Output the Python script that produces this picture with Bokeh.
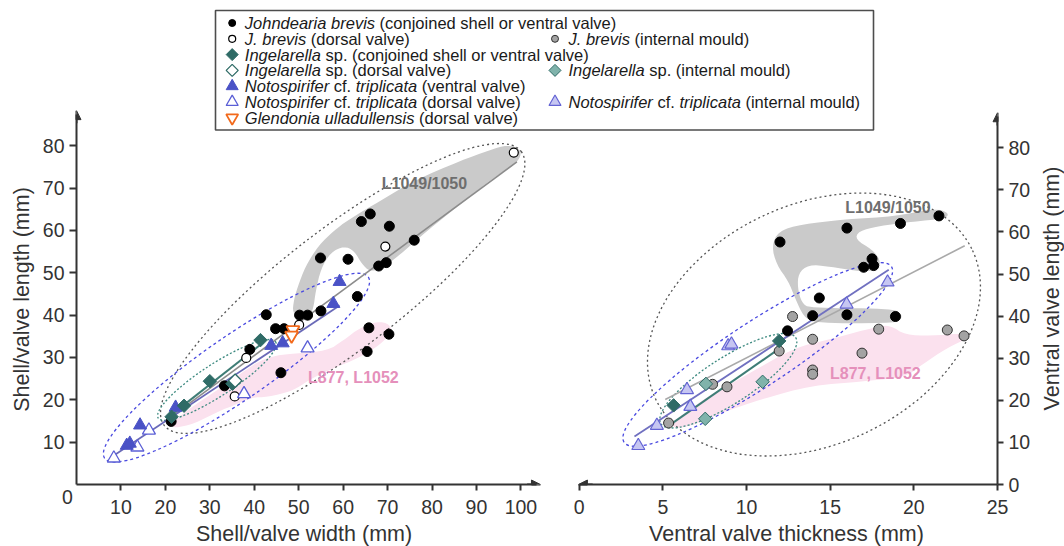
import math
from bokeh.plotting import figure
from bokeh.models import FixedTicker, Arrow, NormalHead, GridBox, Range1d
from bokeh.embed import file_html
from bokeh.resources import INLINE
from bokeh.core.properties import value

FONT = "Liberation Sans"
INK = "#333333"

# ======================= DATA =======================
# ---- Panel A: shell/valve width (mm) vs shell/valve length (mm) ----
A_JB_FILLED_W = [64.1, 66.1, 70.4, 76.0, 54.9, 61.1, 68.0, 69.7, 63.2, 42.7, 50.2, 52.0,
                 55.0, 44.8, 46.7, 65.8, 70.3, 65.4, 39.0, 46.0, 33.3, 21.3]
A_JB_FILLED_L = [62.1, 63.9, 61.0, 57.7, 53.5, 53.2, 51.6, 52.4, 44.4, 40.1, 40.0, 40.0,
                 41.0, 36.8, 36.8, 37.0, 35.5, 31.4, 31.9, 26.4, 23.3, 14.9]
A_JB_DORSAL_W = [98.4, 69.5, 50.1, 38.2, 35.6]
A_JB_DORSAL_L = [78.4, 56.2, 37.7, 29.9, 20.8]
A_ING_FILLED_W = [41.4, 30.0, 24.2, 21.4, 35.1]
A_ING_FILLED_L = [34.1, 24.4, 18.6, 16.0, 23.8]
A_ING_DORSAL_W = [35.7]
A_ING_DORSAL_L = [24.5]
A_NOT_VENTRAL_W = [59.2, 57.8, 43.8, 46.4, 22.3, 14.3, 11.3, 12.0]
A_NOT_VENTRAL_L = [47.9, 42.7, 32.8, 33.4, 18.2, 14.0, 9.2, 9.7]
A_NOT_DORSAL_W = [52.0, 37.7, 16.3, 13.7, 8.4]
A_NOT_DORSAL_L = [32.2, 21.4, 12.8, 8.8, 6.2]
A_GLE_DORSAL_W = [48.7, 48.4]
A_GLE_DORSAL_L = [36.5, 35.2]

# regression lines (end points)
A_FIT_JB_W, A_FIT_JB_L = [21.2, 99.1], [15.9, 76.2]
A_FIT_NOT_W, A_FIT_NOT_L = [8.4, 59.2], [6.85, 42.3]
A_FIT_ING_W, A_FIT_ING_L = [21.4, 42.1], [16.5, 33.6]

# group envelopes (centre in data units, size in px, angle in deg): J. brevis, Notospirifer, Ingelarella
A_ENV_W = [59.9, 36.0, 31.6]
A_ENV_L = [46.3, 27.6, 24.7]
A_ENV_WIDTH_PX = [450, 320, 140]
A_ENV_HEIGHT_PX = [120, 64, 32]
A_ENV_ANGLE = [37.5, 34.5, 33.0]

# locality regions
A_REG_L1049_W = [48.6, 48.9, 49.7, 51.5, 54.5, 58.0, 61.0, 68.5, 76.0, 86.5, 93.0, 97.0, 99.8,
                 100.0, 98.5, 94.0, 86.5, 79.0, 72.5, 68.5, 66.0, 64.2, 62.5, 60.2, 57.2, 55.0,
                 53.8, 53.3, 52.3, 50.5]
A_REG_L1049_L = [40.5, 43.5, 46.5, 51.5, 56.5, 60.0, 62.4, 67.1, 71.8, 76.5, 79.0, 80.2, 79.3,
                 77.5, 75.5, 72.6, 66.3, 60.0, 54.0, 51.0, 50.3, 52.1, 55.2, 56.3, 54.8, 51.0,
                 45.5, 41.5, 39.7, 39.3]
A_REG_L877_W = [21.2, 24.9, 29.0, 33.9, 38.0, 41.4, 45.0, 48.9, 56.5, 60.0, 64.0, 68.5, 71.1,
                70.0, 68.5, 64.0, 56.5, 52.0, 48.9, 42.9, 39.5, 35.0, 32.4, 26.4, 22.0]
A_REG_L877_L = [14.3, 17.5, 20.5, 23.8, 27.0, 29.3, 30.5, 30.9, 31.6, 34.0, 37.2, 38.7, 37.2,
                35.0, 33.2, 30.1, 26.9, 24.5, 22.2, 20.6, 20.6, 18.5, 17.5, 14.3, 13.3]
A_LABEL_TEXT = ["L1049/1050", "L877, L1052"]
A_LABEL_W = [78.3, 62.3]
A_LABEL_L = [71.1, 25.3]

# ---- Panel B: ventral valve thickness (mm) vs ventral valve length (mm) ----
B_JB_FILLED_T = [12.0, 16.0, 19.2, 21.5, 17.5, 17.0, 17.6, 14.35, 13.95, 16.0, 18.9, 12.45]
B_JB_FILLED_L = [57.6, 60.9, 62.0, 63.8, 53.6, 51.6, 52.0, 44.3, 40.1, 40.3, 39.9, 36.5]
B_JB_MOULD_T = [12.75, 13.95, 17.9, 22.0, 23.0, 16.9, 13.95, 13.95, 11.95, 7.97, 8.83, 5.34]
B_JB_MOULD_L = [39.9, 34.5, 36.9, 36.7, 35.3, 31.2, 27.2, 26.2, 31.7, 23.8, 23.2, 14.6]
B_ING_FILLED_T = [11.95, 5.64]
B_ING_FILLED_L = [34.1, 18.8]
B_ING_MOULD_T = [7.57, 10.96, 7.53]
B_ING_MOULD_L = [23.9, 24.4, 15.6]
B_NOT_MOULD_T = [18.43, 15.98, 8.9, 9.1, 6.44, 6.64, 4.64, 3.53]
B_NOT_MOULD_L = [48.05, 42.8, 32.9, 33.3, 22.5, 18.5, 14.0, 9.2]

B_FIT_JB_T, B_FIT_JB_L = [5.14, 23.04], [20.2, 56.7]
B_FIT_NOT_T, B_FIT_NOT_L = [3.3, 18.5], [11.4, 51.0]
B_FIT_ING_T, B_FIT_ING_L = [5.4, 12.0], [14.1, 32.4]

B_ENV_T = [14.03, 10.67, 8.91]
B_ENV_L = [38.0, 30.9, 24.65]
B_ENV_WIDTH_PX = [350, 320, 160]
B_ENV_HEIGHT_PX = [240, 64, 46]
B_ENV_ANGLE = [25.0, 33.3, 32.6]

B_REG_L1049_T = [11.5, 11.9, 13.3, 15.9, 18.9, 21.3, 22.1, 21.9, 19.9, 17.9, 16.7, 16.5, 17.5,
                 18.0, 17.9, 16.9, 14.9, 13.7, 13.1, 13.05, 13.3, 13.8, 18.7, 19.3, 19.2, 18.5,
                 14.1, 13.4, 12.9, 12.5, 11.8]
B_REG_L1049_L = [56.6, 60.2, 61.8, 63.0, 63.7, 65.6, 64.5, 63.2, 62.4, 61.4, 60.2, 58.2, 55.8,
                 53.4, 51.0, 50.5, 51.8, 52.2, 50.2, 46.7, 43.1, 41.9, 41.8, 40.5, 38.9, 38.3,
                 38.3, 39.9, 44.3, 48.3, 52.2]
B_REG_L877_T = [5.5, 6.5, 7.9, 10.0, 12.85, 15.0, 17.8, 18.6, 19.5, 21.0, 22.9, 23.4,
                22.0, 20.5, 19.5, 17.0, 13.9, 10.9, 8.5, 6.9, 5.8]
B_REG_L877_L = [14.5, 17.5, 21.5, 26.0, 32.5, 34.5, 37.5, 37.8, 35.5, 35.3, 35.9, 35.0,
                32.5, 28.5, 25.5, 24.5, 23.5, 20.3, 17.0, 14.2, 13.2]
B_LABEL_TEXT = ["L1049/1050", "L877, L1052"]
B_LABEL_T = [18.45, 17.7]
B_LABEL_L = [65.8, 26.4]

A_X_TICKS = [10, 20, 30, 40, 50, 60, 70, 80, 90, 100]
A_Y_TICKS = [10, 20, 30, 40, 50, 60, 70, 80]
B_X_TICKS = [0, 5, 10, 15, 20, 25]
B_Y_TICKS = [0, 10, 20, 30, 40, 50, 60, 70, 80]

# axis titles
A_X_TITLE = "Shell/valve width (mm)"
A_Y_TITLE = "Shell/valve length (mm)"
B_X_TITLE = "Ventral valve thickness (mm)"
B_Y_TITLE = "Ventral valve length (mm)"

# ======================= STYLES =======================
SQ = math.pi / 4
STY = {
    "jb":    dict(marker="circle", size=10, fill_color="black", line_color="black"),
    "jb_d":  dict(marker="circle", size=9, fill_color="white", line_color="black", line_width=1.2),
    "jb_m":  dict(marker="circle", size=10, fill_color="#a3a3a3", line_color="#303030", line_width=1),
    "ing":   dict(marker="square", angle=SQ, size=9.5, fill_color="#2f6b66", line_color="#2f6b66"),
    "ing_d": dict(marker="square", angle=SQ, size=9.5, fill_color="white", line_color="#2f6b66", line_width=1.3),
    "ing_m": dict(marker="square", angle=SQ, size=9.5, fill_color="#80b3ab", line_color="#2f6b66", line_width=1),
    "not":   dict(marker="triangle", size=13, fill_color="#4a52c6", line_color="#4a52c6"),
    "not_d": dict(marker="triangle", size=13, fill_color="white", line_color="#5b5fd6", line_width=1.3),
    "not_m": dict(marker="triangle", size=13, fill_color="#c6c6f2", line_color="#6464d4", line_width=1.2),
    "gle":   dict(marker="inverted_triangle", size=13, fill_color="white", line_color="#f26a1c", line_width=1.8),
}
LEG_SIZE = {"jb": 7, "jb_d": 7, "jb_m": 7, "ing": 8.5, "ing_d": 8.5, "ing_m": 8.5,
            "not": 12, "not_d": 12, "not_m": 12, "gle": 12}
ENV_STY = [dict(line_color="#555555", line_dash="2 3", line_width=1.3),
           dict(line_color="#4a4ae0", line_dash="3 3", line_width=1.3),
           dict(line_color="#3d8a80", line_dash="2 2", line_width=1.3)]
GRAY_REG, PINK_REG = "#cacaca", "#fbe1ee"
GRAY_TXT, PINK_TXT = "#6e6e6e", "#e590bb"

# ======================= LAYOUT (page has no margin: canvas px == picture px) =======================
W_TOTAL, H_TOTAL = 1064, 546
PAD = 8                 # first grid column (keeps the panels' frames unaligned with the overlay)
COL_B = 556             # where panel B's canvas starts
FRAME_BOTTOM = 484
A_FRAME_LEFT, A_FRAME_RIGHT = 76, 545
B_FRAME_LEFT, B_FRAME_RIGHT = 570, 997
A_PX_X, A_PX_Y = 4.444, 4.234
B_PX_X, B_PX_Y = 16.73, 4.21
A_X_AXIS_END, A_Y_AXIS_END = 104.4, 88.3
B_X_AXIS_END, B_Y_AXIS_END = -0.05, 88.3
TITLE_PX = "21.5px"
X_TITLE_Y = 533
A_X_TITLE_X, B_X_TITLE_X = 303.5, 786
A_Y_TITLE_X, A_Y_TITLE_Y = 21.5, 299
B_Y_TITLE_X, B_Y_TITLE_Y = 1051, 288


def smooth_closed(xs, ys, n=2):
    for _ in range(n):
        nx, ny = [], []
        m = len(xs)
        for i in range(m):
            x0, y0 = xs[i], ys[i]
            x1, y1 = xs[(i + 1) % m], ys[(i + 1) % m]
            nx += [0.75 * x0 + 0.25 * x1, 0.25 * x0 + 0.75 * x1]
            ny += [0.75 * y0 + 0.25 * y1, 0.25 * y0 + 0.75 * y1]
        xs, ys = nx, ny
    return xs, ys


def style_axis(ax, ticks, bounds, tick_out, standoff):
    ax.ticker = FixedTicker(ticks=ticks)
    ax.bounds = bounds
    ax.axis_line_color = INK
    ax.axis_line_width = 2
    ax.major_tick_line_color = INK
    ax.major_tick_line_width = 2
    ax.major_tick_out = tick_out
    ax.major_tick_in = 0
    ax.minor_tick_out = 0
    ax.minor_tick_in = 0
    ax.major_label_text_font = FONT
    ax.major_label_text_font_size = "19.5px"
    ax.major_label_text_color = INK
    ax.major_label_standoff = standoff


def arrow(p, x0, y0, x1, y1):
    p.add_layout(Arrow(end=NormalHead(size=9, fill_color=INK, line_color=INK, line_width=1),
                       x_start=x0, y_start=y0, x_end=x1, y_end=y1,
                       line_color=INK, line_width=2))


def draw_panel(p, regions, envs, fits, series, labels):
    for (xs, ys), col in regions:
        sx, sy = smooth_closed(xs, ys)
        p.patch(sx, sy, fill_color=col, line_color=None)
    ex, ey, ew, eh, ea = envs
    for i in range(len(ex)):
        p.ellipse(x=[ex[i]], y=[ey[i]], width=[ew[i]], height=[eh[i]], angle=[ea[i]],
                  angle_units="deg", width_units="screen", height_units="screen",
                  fill_color=None, **ENV_STY[i])
    for xs, ys, col, lw in fits:
        p.line(xs, ys, line_color=col, line_width=lw)
    for xs, ys, key in series:
        p.scatter(xs, ys, **STY[key])
    for tx, ty, tt, col in labels:
        p.text(x=[tx], y=[ty], text=[tt], text_font=value(FONT), text_font_style="bold",
               text_font_size="16px", text_color=col, text_align="center", text_baseline="middle")


def base_fig(width, x_range, y_range, left, right, **kw):
    p = figure(width=width, height=H_TOTAL, output_backend="svg", toolbar_location=None,
               x_range=x_range, y_range=y_range, min_border_left=left, min_border_right=right,
               min_border_top=0, min_border_bottom=H_TOTAL - FRAME_BOTTOM, **kw)
    p.xgrid.visible = False
    p.ygrid.visible = False
    p.outline_line_color = None
    p.background_fill_color = None
    p.border_fill_color = None
    return p


# ---------------- Panel A ----------------
A_WIDTH = COL_B - PAD
pa = base_fig(A_WIDTH, Range1d(0, (A_FRAME_RIGHT - A_FRAME_LEFT) / A_PX_X),
              Range1d(0, FRAME_BOTTOM / A_PX_Y), A_FRAME_LEFT - PAD, COL_B - A_FRAME_RIGHT)
style_axis(pa.xaxis[0], A_X_TICKS, (0, A_X_AXIS_END - 1), 6, 9)
style_axis(pa.yaxis[0], A_Y_TICKS, (0, A_Y_AXIS_END - 1), 7, 5)
arrow(pa, A_X_AXIS_END - 3, 0, A_X_AXIS_END, 0)
arrow(pa, 0, A_Y_AXIS_END - 3, 0, A_Y_AXIS_END)
draw_panel(
    pa,
    [((A_REG_L1049_W, A_REG_L1049_L), GRAY_REG), ((A_REG_L877_W, A_REG_L877_L), PINK_REG)],
    (A_ENV_W, A_ENV_L, A_ENV_WIDTH_PX, A_ENV_HEIGHT_PX, A_ENV_ANGLE),
    [(A_FIT_JB_W, A_FIT_JB_L, "#8c8c8c", 1.6), (A_FIT_NOT_W, A_FIT_NOT_L, "#6a6ab8", 1.8),
     (A_FIT_ING_W, A_FIT_ING_L, "#3f7d76", 2.0)],
    [(A_JB_FILLED_W, A_JB_FILLED_L, "jb"), (A_JB_DORSAL_W, A_JB_DORSAL_L, "jb_d"),
     (A_NOT_DORSAL_W, A_NOT_DORSAL_L, "not_d"), (A_NOT_VENTRAL_W, A_NOT_VENTRAL_L, "not"),
     (A_ING_FILLED_W, A_ING_FILLED_L, "ing"), (A_ING_DORSAL_W, A_ING_DORSAL_L, "ing_d"),
     (A_GLE_DORSAL_W, A_GLE_DORSAL_L, "gle")],
    [(A_LABEL_W[0], A_LABEL_L[0], A_LABEL_TEXT[0], GRAY_TXT),
     (A_LABEL_W[1], A_LABEL_L[1], A_LABEL_TEXT[1], PINK_TXT)],
)

# ---------------- Panel B ----------------
B_WIDTH = W_TOTAL - COL_B
b_frame_w = B_FRAME_RIGHT - B_FRAME_LEFT
pb = base_fig(B_WIDTH, Range1d(25 - b_frame_w / B_PX_X, 25), Range1d(0, FRAME_BOTTOM / B_PX_Y),
              B_FRAME_LEFT - COL_B, W_TOTAL - B_FRAME_RIGHT, y_axis_location="right")
style_axis(pb.xaxis[0], B_X_TICKS, (0, 25), 6, 9)
style_axis(pb.yaxis[0], B_Y_TICKS, (0, B_Y_AXIS_END - 1), 6, 5)
arrow(pb, 0.8, 0, B_X_AXIS_END, 0)
arrow(pb, 25, B_Y_AXIS_END - 3, 25, B_Y_AXIS_END)
draw_panel(
    pb,
    [((B_REG_L1049_T, B_REG_L1049_L), GRAY_REG), ((B_REG_L877_T, B_REG_L877_L), PINK_REG)],
    (B_ENV_T, B_ENV_L, B_ENV_WIDTH_PX, B_ENV_HEIGHT_PX, B_ENV_ANGLE),
    [(B_FIT_JB_T, B_FIT_JB_L, "#a9a9a9", 1.6), (B_FIT_NOT_T, B_FIT_NOT_L, "#7070c0", 1.8),
     (B_FIT_ING_T, B_FIT_ING_L, "#3f7d76", 2.0)],
    [(B_JB_FILLED_T, B_JB_FILLED_L, "jb"), (B_JB_MOULD_T, B_JB_MOULD_L, "jb_m"),
     (B_NOT_MOULD_T, B_NOT_MOULD_L, "not_m"), (B_ING_FILLED_T, B_ING_FILLED_L, "ing"),
     (B_ING_MOULD_T, B_ING_MOULD_L, "ing_m")],
    [(B_LABEL_T[0], B_LABEL_L[0], B_LABEL_TEXT[0], GRAY_TXT),
     (B_LABEL_T[1], B_LABEL_L[1], B_LABEL_TEXT[1], PINK_TXT)],
)

# ---------------- overlay: legend, axis titles, origin "0" (page-pixel coordinates) ----------------
pl = figure(width=W_TOTAL, height=H_TOTAL, output_backend="svg", toolbar_location=None,
            x_range=Range1d(0, W_TOTAL), y_range=Range1d(H_TOTAL, 0),
            x_axis_location=None, y_axis_location=None, min_border=0)
pl.xgrid.visible = False
pl.ygrid.visible = False
pl.outline_line_color = None
pl.background_fill_color = None
pl.border_fill_color = None

title_kw = dict(text_font=value(FONT), text_font_size=TITLE_PX, text_color=INK,
                text_align="center", text_baseline="middle")
pl.text(x=[A_X_TITLE_X, B_X_TITLE_X], y=[X_TITLE_Y, X_TITLE_Y], text=[A_X_TITLE, B_X_TITLE], **title_kw)
pl.text(x=[A_Y_TITLE_X, B_Y_TITLE_X], y=[A_Y_TITLE_Y, B_Y_TITLE_Y], text=[A_Y_TITLE, B_Y_TITLE],
        angle=math.pi / 2, **title_kw)
pl.text(x=[67], y=[496], text=["0"], text_font=value(FONT), text_font_size="19.5px",
        text_color=INK, text_align="center", text_baseline="middle")

ARIAL_W = {' ': 278, '(': 333, ')': 333, '.': 278, ',': 278, '/': 278,
           'a': 556, 'b': 556, 'c': 500, 'd': 556, 'e': 556, 'f': 278, 'g': 556, 'h': 556,
           'i': 222, 'j': 222, 'k': 500, 'l': 222, 'm': 833, 'n': 556, 'o': 556, 'p': 556,
           'q': 556, 'r': 333, 's': 500, 't': 278, 'u': 556, 'v': 500, 'w': 722, 'x': 500,
           'y': 500, 'z': 500, 'G': 778, 'I': 278, 'J': 500, 'N': 722, 'L': 556}
LEG_FONT_PX = 16.5


def text_w(s):
    return sum(ARIAL_W.get(c, 556) for c in s) / 1000.0 * LEG_FONT_PX


LEG_BOX = (215, 873, 10, 129.5)
LEG_ROW0, LEG_STEP = 22.5, 15.8
LEG_MARK_X = [231.7, 554.5]
LEG_TEXT_X = [244.3, 568.0]
NOT_SP = [("Notospirifer", True), (" cf. ", False), ("triplicata", True)]
LEGEND = [
    (0, 0, "jb", [("Johndearia brevis", True), (" (conjoined shell or ventral valve)", False)]),
    (1, 0, "jb_d", [("J. brevis", True), (" (dorsal valve)", False)]),
    (1, 1, "jb_m", [("J. brevis", True), (" (internal mould)", False)]),
    (2, 0, "ing", [("Ingelarella", True), (" sp. (conjoined shell or ventral valve)", False)]),
    (3, 0, "ing_d", [("Ingelarella", True), (" sp. (dorsal valve)", False)]),
    (3, 1, "ing_m", [("Ingelarella", True), (" sp. (internal mould)", False)]),
    (4, 0, "not", NOT_SP + [(" (ventral valve)", False)]),
    (5, 0, "not_d", NOT_SP + [(" (dorsal valve)", False)]),
    (5, 1, "not_m", NOT_SP + [(" (internal mould)", False)]),
    (6, 0, "gle", [("Glendonia ulladullensis", True), (" (dorsal valve)", False)]),
]

l, r, t, b = LEG_BOX
pl.quad(left=[l], right=[r], top=[t], bottom=[b],
        fill_color="white", line_color="#4d4d4d", line_width=1.6)
seg = {True: ([], [], []), False: ([], [], [])}
for row, col, key, parts in LEGEND:
    py = LEG_ROW0 + LEG_STEP * row
    st = dict(STY[key])
    st["size"] = LEG_SIZE[key]
    pl.scatter([LEG_MARK_X[col]], [py], **st)
    cur = LEG_TEXT_X[col]
    for s, ital in parts:
        lead = len(s) - len(s.lstrip(' '))
        trail = len(s) - len(s.rstrip(' '))
        core = s.strip(' ')
        cur += text_w(' ' * lead)
        seg[ital][0].append(cur)
        seg[ital][1].append(py)
        seg[ital][2].append(core)
        cur += text_w(core) + text_w(' ' * trail)
for ital, (xs, ys, ts) in seg.items():
    pl.text(x=xs, y=ys, text=ts, text_font=value(FONT),
            text_font_style="italic" if ital else "normal", text_font_size=f"{LEG_FONT_PX}px",
            text_color="#1a1a1a", text_baseline="middle", text_align="left")

grid = GridBox(children=[(pa, 0, 1, 1, 1), (pb, 0, 2, 1, 1), (pl, 0, 0, 2, 4)],
               cols=[f"{PAD}px", f"{A_WIDTH}px", f"{B_WIDTH}px", "0px"],
               rows=[f"{H_TOTAL}px", "0px"])

open("out.html", "w").write(file_html(grid, INLINE))
